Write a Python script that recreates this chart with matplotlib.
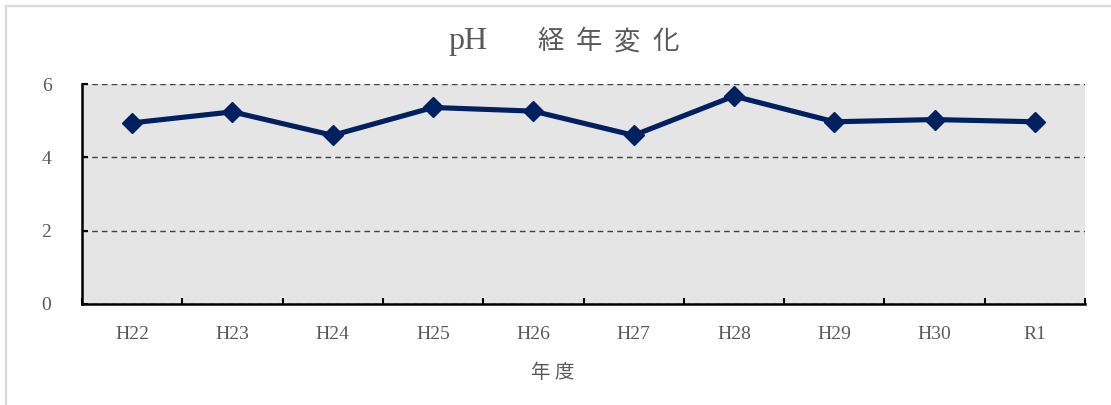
"""pH yearly trend chart (line with diamond markers)."""

import matplotlib
matplotlib.use("Agg")
import matplotlib.pyplot as plt
from matplotlib.patches import Rectangle
import numpy as np


years = ["H22", "H23", "H24", "H25", "H26", "H27", "H28", "H29", "H30", "R1"]
ph_values = [4.94, 5.24, 4.60, 5.36, 5.26, 4.60, 5.67, 4.97, 5.03, 4.97]
y_ticks = [0, 2, 4, 6]
title_parts = ["pH", "経", "年", "変", "化"]
x_label = "年度"

FONTS = ["Liberation Serif", "Noto Sans CJK JP", "DejaVu Sans"]
TEXT_COLOR = "#595959"
LINE_COLOR = "#002060"
W, H = 1111, 405

plt.rcParams["font.family"] = FONTS

figure = plt.figure(figsize=(W / 100, H / 100), dpi=100)
figure.patch.set_facecolor("white")
figure.patches.append(Rectangle(
    (6 / W, -0.05), 1.2, 1 - 6 / H + 0.05,
    transform=figure.transFigure, fill=False,
    edgecolor="#d9d9d9", linewidth=1.6, zorder=0,
))

axis = figure.add_axes([82 / W, 1 - 304 / H, 1003 / W, 220 / H])
axis.set_facecolor("#e5e5e5")

x = np.arange(len(years))
axis.plot(
    x, ph_values, color=LINE_COLOR, linewidth=3.7,
    marker="D", markersize=10, markeredgecolor=LINE_COLOR,
    markerfacecolor=LINE_COLOR, zorder=3,
)

axis.set_xlim(-0.5, len(years) - 0.5)
axis.set_ylim(0, 6)
axis.set_yticks(y_ticks)
axis.set_yticklabels([str(v) for v in y_ticks])
axis.set_xticks(x)
axis.set_xticklabels(years)
axis.set_xticks(np.arange(-0.5, len(years)), minor=True)

axis.grid(axis="y", color="#404040", linestyle=(0, (4, 3)), linewidth=1.0)
axis.set_axisbelow(True)

axis.tick_params(axis="x", which="major", length=0, pad=16,
                 labelsize=14, labelcolor=TEXT_COLOR)
axis.tick_params(axis="x", which="minor", direction="in", length=4,
                 width=1.5, color="black")
axis.tick_params(axis="y", direction="in", length=4, width=1.5,
                 pad=22, labelsize=14, labelcolor=TEXT_COLOR)

for side in ("top", "right"):
    axis.spines[side].set_visible(False)
for side in ("left", "bottom"):
    axis.spines[side].set_linewidth(1.8)
    axis.spines[side].set_color("black")

# title, spread out like the wide Mincho original
title_x = [468, 551, 589, 627, 666]
title_size = [23, 19, 19, 19, 19]
for part, px, size in zip(title_parts, title_x, title_size):
    figure.text(px / W, 1 - 42 / H, part, ha="center", va="center",
                fontsize=size, color=TEXT_COLOR)
for part, px in zip(x_label, [540, 564]):
    figure.text(px / W, 1 - 373 / H, part, ha="center", va="center",
                fontsize=14, color=TEXT_COLOR)

figure.savefig("out.png", dpi=100, facecolor=figure.get_facecolor())
plt.close(figure)
